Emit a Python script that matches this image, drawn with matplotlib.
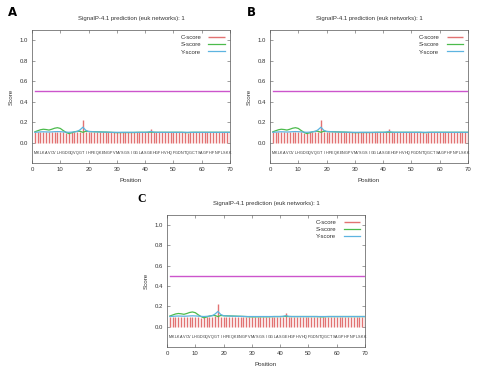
import matplotlib
matplotlib.use("Agg")
import matplotlib.pyplot as plt

# ---------------- data ----------------
sequence = list("MKLKAVCVLHGDGQVQGTIHFEQKENGPVMVSGSIGGLASGEHGFHVHQFGDNTQGCTSAGPHFNPLSKK")
positions = list(range(1, 71))

c_score = [0.100, 0.100, 0.100, 0.100, 0.100, 0.100, 0.100, 0.100, 0.100, 0.100,
           0.100, 0.090, 0.095, 0.100, 0.100, 0.100, 0.105, 0.225, 0.100, 0.100,
           0.100, 0.100, 0.100, 0.100, 0.100, 0.100, 0.100, 0.100, 0.100, 0.100,
           0.100, 0.100, 0.100, 0.100, 0.100, 0.100, 0.100, 0.100, 0.100, 0.100,
           0.100, 0.130, 0.100, 0.100, 0.100, 0.100, 0.100, 0.100, 0.100, 0.100,
           0.100, 0.100, 0.100, 0.100, 0.095, 0.100, 0.100, 0.100, 0.100, 0.100,
           0.100, 0.100, 0.100, 0.100, 0.100, 0.100, 0.100, 0.100, 0.100, 0.100]

s_score = [0.105, 0.115, 0.125, 0.130, 0.127, 0.122, 0.130, 0.140, 0.145, 0.138,
           0.118, 0.100, 0.088, 0.095, 0.105, 0.110, 0.110, 0.100, 0.110, 0.108,
           0.107, 0.106, 0.105, 0.104, 0.103, 0.102, 0.101, 0.100, 0.098, 0.097,
           0.097, 0.098, 0.098, 0.098, 0.098, 0.098, 0.099, 0.100, 0.100, 0.100,
           0.100, 0.102, 0.100, 0.100, 0.100, 0.100, 0.100, 0.100, 0.100, 0.100,
           0.100, 0.100, 0.100, 0.098, 0.097, 0.099, 0.100, 0.100, 0.100, 0.100,
           0.100, 0.100, 0.100, 0.100, 0.100, 0.100, 0.100, 0.100, 0.100, 0.100]

y_score = [0.100, 0.102, 0.104, 0.105, 0.104, 0.103, 0.104, 0.106, 0.107, 0.106,
           0.104, 0.102, 0.100, 0.102, 0.104, 0.108, 0.125, 0.150, 0.120, 0.108,
           0.106, 0.105, 0.104, 0.103, 0.102, 0.102, 0.101, 0.100, 0.100, 0.100,
           0.100, 0.100, 0.100, 0.100, 0.100, 0.100, 0.100, 0.100, 0.100, 0.100,
           0.102, 0.108, 0.102, 0.100, 0.100, 0.100, 0.100, 0.100, 0.100, 0.100,
           0.100, 0.100, 0.100, 0.100, 0.100, 0.100, 0.100, 0.100, 0.100, 0.100,
           0.100, 0.100, 0.100, 0.100, 0.100, 0.100, 0.100, 0.100, 0.100, 0.100]

threshold = 0.5
x_ticks = [0, 10, 20, 30, 40, 50, 60, 70]
y_ticks = [0.0, 0.2, 0.4, 0.6, 0.8, 1.0]
title = "SignalP-4.1 prediction (euk networks): 1"
panel_labels = ["A", "B", "C"]

FONT = "Liberation Sans"
C_COL = "#e27272"
S_COL = "#4cbb4c"
Y_COL = "#5db4e0"
T_COL = "#cc55cc"
TXT = "#333333"

W, H = 480, 373
fig = plt.figure(figsize=(W / 100, H / 100), dpi=100)


def px_rect(l, t, r, b):
    return [l / W, 1 - b / H, (r - l) / W, (b - t) / H]


def draw_panel(rect, label, label_xy, label_family):
    ax = fig.add_axes(rect)
    ax.set_xlim(0, 70)
    ax.set_ylim(-0.2, 1.1)
    ax.vlines(positions, 0, c_score, colors=C_COL, linewidths=1.0, label="C-score", zorder=2)
    ax.plot(positions, s_score, color=S_COL, lw=0.9, label="S-score", zorder=3)
    ax.plot(positions, y_score, color=Y_COL, lw=0.9, label="Y-score", zorder=3)
    ax.plot([positions[0], positions[-1]], [threshold, threshold], color=T_COL, lw=1.0, zorder=2)
    for p, aa in zip(positions, sequence):
        ax.text(p, -0.1, aa, fontsize=2.7, family=FONT, ha="center", va="center", color=TXT)
    ax.set_xticks(x_ticks)
    ax.set_yticks(y_ticks)
    ax.set_yticklabels([f"{v:.1f}" for v in y_ticks])
    ax.tick_params(direction="in", length=2, width=0.4, labelsize=4.3,
                   top=True, right=True, pad=3, color="#555555", labelcolor=TXT)
    for lab in ax.get_xticklabels() + ax.get_yticklabels():
        lab.set_family(FONT)
    for sp in ax.spines.values():
        sp.set_linewidth(0.5)
        sp.set_edgecolor("#555555")
    ax.set_xlabel("Position", fontsize=4.5, family=FONT, labelpad=4, color=TXT)
    ax.set_ylabel("Score", fontsize=4.5, family=FONT, labelpad=4, color=TXT)
    ax.set_title(title, fontsize=4.3, family=FONT, pad=7, color=TXT)
    leg = ax.legend(loc="upper right", frameon=False, markerfirst=False,
                    prop={"family": FONT, "size": 4.3}, handlelength=2.8,
                    handletextpad=1.2, labelspacing=0.35, borderaxespad=0.6,
                    borderpad=0.2)
    for t in leg.get_texts():
        t.set_color(TXT)
    fig.text(label_xy[0] / W, 1 - label_xy[1] / H, label, fontsize=8.5,
             family=label_family, fontweight="bold", ha="left", va="center", color="black")
    return ax


draw_panel(px_rect(32, 30, 230, 163), panel_labels[0], (8, 12), "Liberation Sans Narrow")
draw_panel(px_rect(270, 30, 468, 163), panel_labels[1], (247, 12), "Liberation Sans Narrow")
draw_panel(px_rect(167, 215, 365, 347), panel_labels[2], (137, 199), "Liberation Serif")

fig.savefig("out.png", dpi=100)
